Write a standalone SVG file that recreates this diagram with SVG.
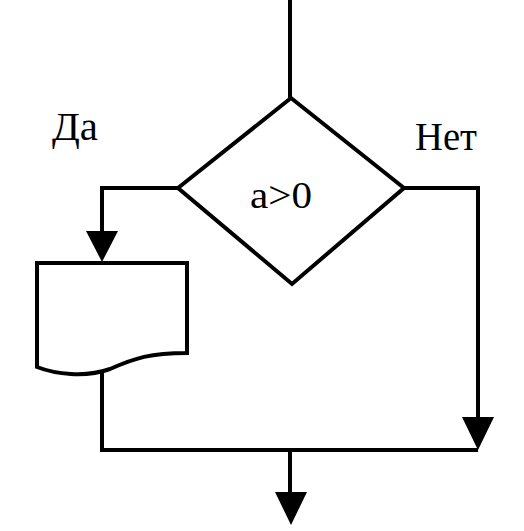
<svg xmlns="http://www.w3.org/2000/svg" width="524" height="531" viewBox="0 0 524 531">
<style>
.s{fill:none;stroke:#000;stroke-width:4;stroke-linejoin:miter}
.t{font-family:"Liberation Serif",serif;fill:#000}
.h{fill:#000;stroke:none}
</style>
<rect width="524" height="531" fill="#fff"/>
<g id="connectors">
<path class="s" d="M290,0 V98"/>
<path class="s" d="M178,188 H102 V232"/>
<polygon class="h" points="86,231 118,231 102,262"/>
<path class="s" d="M404,188 H478 V418"/>
<polygon class="h" points="462,417 494,417 478,450"/>
<path class="s" d="M102,372 V450 H478"/>
<path class="s" d="M290,450 V494"/>
<polygon class="h" points="275,492 307,492 291,525"/>
</g>
<g id="decision">
<polygon class="s" points="291,98 404,188 292,284 178,188"/>
<text class="t" x="250" y="208" font-size="37" textLength="62" lengthAdjust="spacingAndGlyphs">a&gt;0</text>
</g>
<g id="document">
<path class="s" d="M37,263 H187 V353 C150,353 135,358 110,369 C85,378 55,374 37,367 Z"/>
</g>
<g id="label-yes"><text class="t" x="52" y="140" font-size="39" textLength="46" lengthAdjust="spacingAndGlyphs">Да</text></g>
<g id="label-no"><text class="t" x="415" y="150" font-size="40" textLength="62" lengthAdjust="spacingAndGlyphs">Нет</text></g>
</svg>
